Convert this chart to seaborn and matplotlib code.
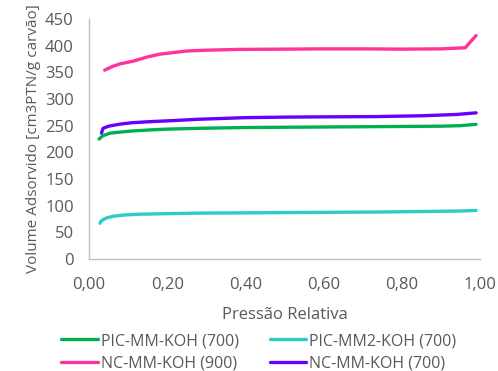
import matplotlib
matplotlib.use("Agg")
import matplotlib.pyplot as plt
import pandas as pd
import seaborn as sns

sns.set_style("white")
plt.rcParams['font.family'] = ['Open Sans', 'DejaVu Sans']

# PIC-MM-KOH (700)
green_x = [0.026, 0.035, 0.054, 0.08, 0.11, 0.156, 0.20, 0.28, 0.40, 0.50, 0.60, 0.70, 0.80, 0.90, 0.95, 0.99]
green_y = [225, 231, 236, 238, 240, 242, 243.5, 245, 246.5, 247, 247.5, 248, 248.5, 249, 250, 252.5]
# PIC-MM2-KOH (700)
cyan_x = [0.028, 0.031, 0.037, 0.045, 0.061, 0.09, 0.13, 0.20, 0.28, 0.40, 0.50, 0.60, 0.73, 0.85, 0.95, 0.99]
cyan_y = [67, 71, 74, 77, 80, 82.5, 84, 85, 86, 86.5, 87, 87.5, 88, 89, 90, 91]
# NC-MM-KOH (900)
pink_x = [0.04, 0.06, 0.08, 0.10, 0.113, 0.15, 0.18, 0.25, 0.30, 0.386, 0.50, 0.60, 0.70, 0.80, 0.90, 0.962, 0.99]
pink_y = [354, 361, 366, 369, 371, 379, 384, 390, 391.5, 393, 393.5, 394, 394, 393.5, 394, 396, 419]
# NC-MM-KOH (700)
purple_x = [0.032, 0.034, 0.036, 0.05, 0.08, 0.11, 0.156, 0.20, 0.28, 0.40, 0.50, 0.60, 0.73, 0.85, 0.94, 0.99]
purple_y = [236, 241, 245, 249, 253, 255.5, 257.5, 259, 262, 265, 266, 266.5, 267, 268.5, 271, 274]

series = [
    ("PIC-MM-KOH (700)", green_x, green_y, "#00B050"),
    ("PIC-MM2-KOH (700)", cyan_x, cyan_y, "#2ECBCB"),
    ("NC-MM-KOH (900)", pink_x, pink_y, "#FF3399"),
    ("NC-MM-KOH (700)", purple_x, purple_y, "#6600FF"),
]

fig = plt.figure(figsize=(4.98, 3.71), dpi=100)
ax = fig.add_axes([0.1787, 0.3019, 0.7852, 0.6469])

for name, xs, ys, col in series:
    df = pd.DataFrame({"x": xs, "y": ys})
    sns.lineplot(data=df, x="x", y="y", ax=ax, color=col, linewidth=2.4,
                 label=name, sort=False, solid_capstyle="round")

ax.set_xlim(0, 1)
ax.set_ylim(0, 450)
ax.set_xticks([0, 0.2, 0.4, 0.6, 0.8, 1.0])
ax.set_xticklabels(["0,00", "0,20", "0,40", "0,60", "0,80", "1,00"])
ax.set_yticks(range(0, 451, 50))
gray = "#595959"
fs = 12
ax.tick_params(axis="both", colors=gray, labelsize=fs, length=0)
ax.tick_params(axis="y", pad=11)
ax.tick_params(axis="x", pad=13)
for side in ["top", "right"]:
    ax.spines[side].set_visible(False)
for side in ["left", "bottom"]:
    ax.spines[side].set_color("#BFBFBF")
    ax.spines[side].set_linewidth(1)

ax.set_xlabel("Pressão Relativa", color=gray, fontsize=fs, labelpad=10)
ax.set_ylabel("Volume Adsorvido [cm3PTN/g carvão]", color=gray, fontsize=11, labelpad=3)

# row-wise legend order: green, cyan / pink, purple
h, l = ax.get_legend_handles_labels()
idx = [0, 2, 1, 3]
ax.legend([h[i] for i in idx], [l[i] for i in idx], loc="upper center",
          bbox_to_anchor=(0.434, -0.282), ncol=2, frameon=False,
          fontsize=11.5, labelcolor=gray, handlelength=2.3, handletextpad=0.15,
          columnspacing=1.95, labelspacing=0.4, borderaxespad=0)

fig.savefig("out.png", dpi=100)
